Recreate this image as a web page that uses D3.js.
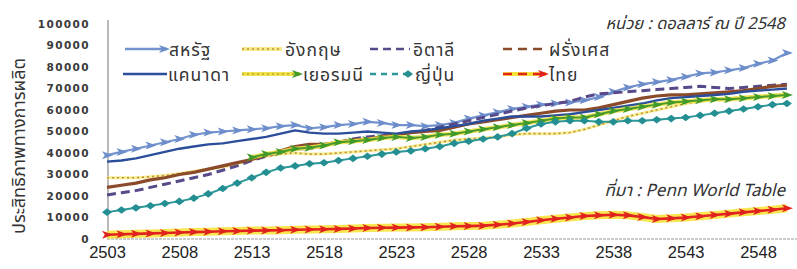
<!DOCTYPE html>
<html>
<head>
<meta charset="utf-8">
<script src="https://cdn.jsdelivr.net/npm/d3@7"></script>
<style>
  body { margin: 0; background: #fff; }
  svg { display: block; }
  .thai { font-family: "Noto Sans Thai", "Noto Sans", "DejaVu Sans", sans-serif; }
</style>
</head>
<body>
<svg id="chart" width="797" height="269"></svg>
<script>
// years (Thai Buddhist era) 2503 - 2550
var years = d3.range(2503, 2551);
var xTicks = [2503, 2508, 2513, 2518, 2523, 2528, 2533, 2538, 2543, 2548];
var yTicks = [0, 10000, 20000, 30000, 40000, 50000, 60000, 70000, 80000, 90000, 100000];

// values, one per year
var usa = [39000, 40500, 42000, 43500, 45000, 46500, 48500, 49500, 50000, 50500, 51000, 51500, 52500, 53000,
  51500, 52000, 53000, 53500, 54500, 54000, 53000, 53000, 52500, 53000, 54000, 56000, 57500, 59000, 60500,
  61500, 62500, 63000, 63500, 64500, 66000, 68500, 70500, 72000, 73000, 74000, 75500, 77000, 77500, 78500,
  79500, 81500, 83000, 86500];
var canada = [36000, 36500, 37500, 39000, 40500, 42000, 43000, 44000, 44500, 45500, 46500, 47500, 49000, 50500,
  49500, 49000, 49000, 49500, 50000, 49500, 49000, 50000, 50500, 51500, 52500, 53500, 55000, 56000, 57000,
  57000, 57000, 57500, 58000, 59000, 60000, 61000, 62000, 63000, 64500, 65500, 66000, 66500, 67000, 67500,
  68500, 69000, 69500, 70000];
var uk = [28500, 28500, 28500, 29000, 29500, 30500, 31500, 32500, 33500, 35000, 37000, 38500, 39500, 40000,
  39500, 39500, 40000, 40500, 41000, 41500, 42000, 43000, 44000, 45000, 46000, 46500, 47000, 47500, 48500,
  49000, 49000, 49000, 49500, 51000, 53000, 55000, 57000, 58500, 60000, 61500, 63000, 64000, 65000, 65500,
  66000, 66500, 67000, 67500];
var germany = [null, null, null, null, null, null, null, null, null, null, 38000, 39500, 40500, 42000,
  42500, 43500, 45000, 45500, 46000, 47000, 47500, 47000, 47500, 48500, 49000, 50000, 51000, 52000, 53000,
  54000, 55000, 56000, 56500, 56500, 58000, 59500, 60500, 61500, 62500, 63500, 64000, 64500, 65000, 65000,
  65500, 66000, 66500, 67000];
var italy = [20500, 21500, 22500, 24000, 25500, 27000, 28500, 30000, 32000, 34000, 36500, 38500, 40500, 42000,
  42000, 43500, 45000, 46500, 47500, 48000, 48500, 49500, 50500, 52000, 53500, 55000, 56500, 58000, 59500,
  61000, 62000, 63000, 64000, 66000, 67500, 68000, 68500, 69000, 69500, 70000, 70500, 71000, 70500, 70000,
  70500, 71000, 71500, 72000];
var japan = [12500, 13500, 14500, 15500, 16500, 17500, 19000, 21000, 23500, 26000, 28500, 31000, 33000, 34000,
  35000, 35500, 36500, 37500, 38500, 39500, 40500, 41000, 42000, 43000, 44500, 45500, 46500, 47500, 49000,
  51500, 53500, 54500, 55000, 55000, 54500, 54500, 55000, 55000, 55500, 56000, 56500, 57500, 58500, 59500,
  60500, 61500, 62500, 63000];
var france = [24000, 25000, 26000, 27500, 28500, 30000, 31000, 32500, 34000, 35500, 37000, 39000, 41000, 43000,
  44000, 44000, 45000, 46000, 46500, 47500, 48500, 49500, 50000, 50500, 52000, 53500, 54500, 55500, 56500,
  57500, 58500, 59500, 60000, 60000, 61000, 62500, 64000, 65500, 66500, 67000, 67000, 67500, 68000, 68500,
  69000, 70000, 71000, 71500];
var thai = [2000, 2200, 2400, 2600, 2800, 3000, 3200, 3400, 3600, 3700, 3900, 4000, 4100, 4300, 4400, 4500,
  4700, 4900, 5100, 5200, 5300, 5400, 5500, 5700, 5900, 6000, 6200, 6600, 7200, 7900, 8700, 9400, 10000,
  10700, 11000, 11300, 11000, 10200, 9300, 9600, 10000, 10600, 11200, 11800, 12400, 13000, 13600, 14300];

var names = ["สหรัฐ", "อังกฤษ", "อิตาลี", "ฝรั่งเศส", "แคนาดา", "เยอรมนี", "ญี่ปุ่น", "ไทย"];

var svg = d3.select("#chart");

var x = d3.scaleLinear().domain([2503, 2548]).range([107, 758]);
var y = d3.scaleLinear().domain([0, 100000]).range([239, 24]);

// arrow shaped marker like the excel one
var arrowPath = "M-5,-4 L6,0 L-5,4 L-2.2,0 Z";
var diamondPath = "M-5,0 L0,-3.8 L5,0 L0,3.8 Z";

// series styles, drawn in this order
var series = [
  { name: names[0], data: usa, glow: null, color: "#7393cf", width: 2.2, dash: null, marker: arrowPath, mcolor: "#6d8dca" },
  { name: names[1], data: uk, glow: "#f6eb8a", glowW: 3, color: "#c09030", width: 1.6, dash: "2,3", marker: null },
  { name: names[2], data: italy, glow: null, color: "#58498a", width: 3, dash: "9,5", marker: null },
  { name: names[3], data: france, glow: null, color: "#8b4b2b", width: 3.2, dash: null, marker: null },
  { name: names[4], data: canada, glow: null, color: "#2b4e9b", width: 2.4, dash: null, marker: null },
  { name: names[5], data: germany, glow: "#efe24a", glowW: 4.5, color: "#4b9b2c", width: 2, dash: null, marker: arrowPath, mcolor: "#3f9a2a" },
  { name: names[6], data: japan, glow: null, color: "#2e9899", width: 2, dash: null, marker: diamondPath, mcolor: "#238f92" },
  { name: names[7], data: thai, glow: "#f7e23c", glowW: 8, color: "#e3231f", width: 2.6, dash: null, marker: arrowPath, mcolor: "#e0221e" }
];

// y axis
var yAxis = d3.axisLeft(y).tickValues(yTicks).tickSize(0).tickPadding(18).tickFormat(d3.format("d"));
var gy = svg.append("g").attr("transform", "translate(108,0)").call(yAxis);
gy.select(".domain").attr("stroke", "#8a8a8a").attr("stroke-width", 1.2).attr("d", "M0,20V239");
gy.selectAll("text")
  .attr("font-family", "DejaVu Sans, sans-serif")
  .attr("font-weight", "bold")
  .attr("font-size", 10.5)
  .attr("letter-spacing", 1.4)
  .attr("fill", "#3a3a3a");

// x axis
var xAxis = d3.axisBottom(x).tickValues(xTicks).tickSize(0).tickPadding(7).tickFormat(d3.format("d"));
var gx = svg.append("g").attr("transform", "translate(0,239)").call(xAxis);
gx.select(".domain").attr("stroke", "#9a9a9a").attr("stroke-width", 1.2).attr("stroke-dasharray", "3,1").attr("d", "M107,0H797");
gx.selectAll("text")
  .attr("font-family", "Liberation Sans, Arial, sans-serif")
  .attr("font-size", 16.5)
  .attr("fill", "#222");

// y axis title
svg.append("text")
  .attr("class", "thai")
  .attr("transform", "translate(25,146) rotate(-90)")
  .attr("text-anchor", "middle")
  .attr("font-size", 18)
  .attr("textLength", 176)
  .attr("lengthAdjust", "spacingAndGlyphs")
  .attr("fill", "#333")
  .text("ประสิทธิภาพทางการผลิต");

var line = d3.line()
  .defined((d) => d != null)
  .x((d, i) => x(years[i]))
  .y((d) => y(d));

var plot = svg.append("g");

series.forEach(function (s) {
  if (s.glow) {
    plot.append("path")
      .attr("d", line(s.data))
      .attr("fill", "none")
      .attr("stroke", s.glow)
      .attr("stroke-width", s.glowW)
      .attr("stroke-linejoin", "round")
      .attr("opacity", 0.9);
  }
  plot.append("path")
    .attr("d", line(s.data))
    .attr("fill", "none")
    .attr("stroke", s.color)
    .attr("stroke-width", s.width)
    .attr("stroke-dasharray", s.dash)
    .attr("stroke-linejoin", "round");
  if (s.marker) {
    plot.selectAll(null)
      .data(s.data.map((v, i) => ({ v: v, yr: years[i] })).filter((d) => d.v != null))
      .enter()
      .append("path")
      .attr("d", s.marker)
      .attr("transform", (d) => "translate(" + x(d.yr) + "," + y(d.v) + ")")
      .attr("fill", s.mcolor);
  }
});

// legend (two rows, like excel)
var legendPos = [
  [125, 167, 169, 49], [242, 282, 285, 49], [370, 410, 413, 49], [503, 545, 549, 49],
  [123, 167, 168, 74], [242, 300, 303, 74], [370, 411, 415, 74], [503, 546, 549, 74]
];
var legDash = ["", "2,3", "8,5", "9,6", "", "2,3", "6,5", "9,6"];
var legend = svg.append("g");
series.forEach(function (s, i) {
  var p = legendPos[i];
  var g = legend.append("g");
  if (s.glow) {
    g.append("line").attr("x1", p[0]).attr("x2", p[1]).attr("y1", p[3]).attr("y2", p[3])
      .attr("stroke", s.glow).attr("stroke-width", 4);
  }
  g.append("line").attr("x1", p[0]).attr("x2", p[1]).attr("y1", p[3]).attr("y2", p[3])
    .attr("stroke", i === 5 ? "#b8a83a" : s.color)
    .attr("stroke-width", i === 4 ? 2.6 : i === 1 || i === 5 ? 1.6 : 2.4)
    .attr("stroke-dasharray", legDash[i] || null);
  if (s.marker) {
    g.append("path").attr("d", s.marker)
      .attr("transform", "translate(" + (p[1] - 3) + "," + p[3] + ")")
      .attr("fill", s.mcolor);
  }
  g.append("text")
    .attr("class", "thai")
    .attr("x", p[2])
    .attr("y", p[3] + 6.5)
    .attr("font-size", 17.5)
    .attr("letter-spacing", 1)
    .attr("fill", "#333")
    .text(s.name);
});

// unit and source notes
svg.append("text")
  .attr("class", "thai")
  .attr("x", 785).attr("y", 29)
  .attr("text-anchor", "end")
  .attr("font-style", "italic")
  .attr("font-size", 16.5)
  .attr("fill", "#333")
  .text("หน่วย : ดอลลาร์ ณ ปี 2548");

svg.append("text")
  .attr("class", "thai")
  .attr("x", 785).attr("y", 196)
  .attr("text-anchor", "end")
  .attr("font-style", "italic")
  .attr("font-size", 17)
  .attr("fill", "#333")
  .text("ที่มา : Penn World Table");
</script>
</body>
</html>
